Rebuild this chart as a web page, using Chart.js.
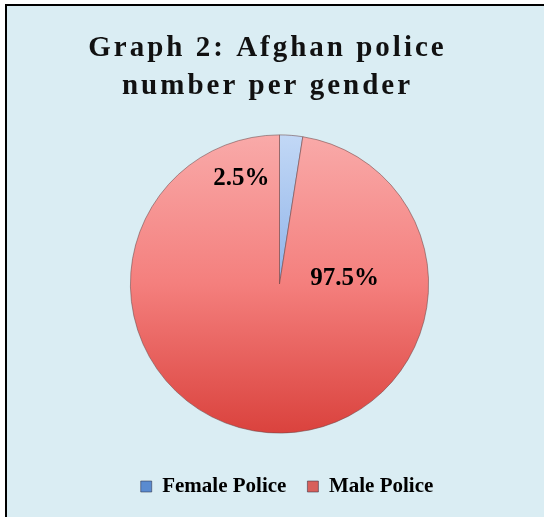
<!DOCTYPE html>
<html>
<head>
<meta charset="utf-8">
<script src="https://cdn.jsdelivr.net/npm/chart.js@4/dist/chart.umd.min.js"></script>
<style>
  html, body { margin: 0; padding: 0; background: #ffffff; }
  body { width: 544px; height: 517px; position: relative; overflow: hidden; }
  .frame {
    position: absolute; left: 5px; top: 4px; width: 560px; height: 540px;
    background: #daedf3; border-left: 2px solid #000; border-top: 2px solid #000;
  }
  #chart { position: absolute; left: 0; top: 0; }
</style>
</head>
<body>
<div class="frame"></div>
<canvas id="chart" width="544" height="517"></canvas>
<script>
// Afghan police headcount split by gender (percent of total)
const categories = ['Female Police', 'Male Police'];
const shares = [2.5, 97.5];
const shareLabels = ['2.5%', '97.5%'];

const titleLines = ['Graph 2: Afghan police', 'number per gender'];

// Vertical shading for each slice, light at the top and deeper at the bottom
const sliceStops = [
  ['#c2d8f6', '#8fb3e8', '#4c7fc6'],
  ['#f9aaa9', '#f47f7d', '#da423d']
];
const legendSwatch = ['#5a8bd0', '#d8605b'];

function sliceFill(context) {
  const chart = context.chart;
  const i = context.dataIndex;
  const area = chart.chartArea;
  if (!area) return sliceStops[i][1];
  const meta = chart.getDatasetMeta(0);
  const arc = meta.data[i];
  const cy = arc && arc.y ? arc.y : (area.top + area.bottom) / 2;
  const r = arc && arc.outerRadius ? arc.outerRadius : (area.bottom - area.top) / 2;
  const g = chart.ctx.createLinearGradient(0, cy - r, 0, cy + r);
  g.addColorStop(0, sliceStops[i][0]);
  g.addColorStop(0.5, sliceStops[i][1]);
  g.addColorStop(1, sliceStops[i][2]);
  return g;
}

// Title drawn with spaced-out lettering; title and legend nudged sideways
const blockTweaks = {
  id: 'blockTweaks',
  afterInit(chart, args, opts) {
    const wrap = (block, dx, spacing) => {
      if (!block || block._wrapped) return;
      const orig = block.draw.bind(block);
      block.draw = function () {
        const ctx = chart.ctx;
        ctx.save();
        ctx.translate(dx, 0);
        if (spacing) ctx.letterSpacing = spacing;
        orig();
        ctx.restore();
      };
      block._wrapped = true;
    };
    wrap(chart.titleBlock, opts.titleShift, '3px');
    wrap(chart.legend, opts.legendShift, null);
  }
};

// Percent labels placed relative to each slice's centre and radius
const sliceLabels = {
  id: 'sliceLabels',
  afterDatasetsDraw(chart, args, opts) {
    const ctx = chart.ctx;
    const meta = chart.getDatasetMeta(0);
    ctx.save();
    ctx.font = opts.font;
    ctx.fillStyle = opts.color;
    ctx.textAlign = 'center';
    ctx.textBaseline = 'middle';
    meta.data.forEach((arc, i) => {
      const p = arc.getProps(['x', 'y', 'outerRadius'], true);
      const off = opts.offsets[i];
      ctx.fillText(shareLabels[i], p.x + off[0] * p.outerRadius, p.y + off[1] * p.outerRadius);
    });
    ctx.restore();
  }
};

new Chart(document.getElementById('chart'), {
  type: 'pie',
  data: {
    labels: categories,
    datasets: [{
      data: shares,
      backgroundColor: sliceFill,
      borderColor: 'rgba(110, 70, 70, 0.55)',
      borderWidth: 1,
      hoverOffset: 0
    }]
  },
  options: {
    responsive: false,
    animation: false,
    events: [],
    layout: { padding: { left: 15, right: 0, top: 0, bottom: 10 } },
    plugins: {
      title: {
        display: true,
        text: titleLines,
        color: '#111111',
        font: { family: '"Liberation Serif", "Times New Roman", serif', size: 29, weight: 'bold', lineHeight: 1.3 },
        padding: { top: 30, bottom: 29 }
      },
      legend: {
        display: true,
        position: 'bottom',
        title: {
          display: true,
          text: ' ',
          color: '#000000',
          font: { size: 2 },
          padding: { top: 0, bottom: 19 }
        },
        labels: {
          color: '#000000',
          font: { family: '"Liberation Serif", "Times New Roman", serif', size: 21, weight: 'bold' },
          boxWidth: 11,
          boxHeight: 11,
          padding: 21,
          generateLabels(chart) {
            return categories.map((c, i) => ({
              text: c,
              fillStyle: legendSwatch[i],
              strokeStyle: 'rgba(40,40,60,0.5)',
              fontColor: '#000000',
              lineWidth: 1,
              hidden: false,
              index: i,
              datasetIndex: 0
            }));
          }
        }
      },
      tooltip: { enabled: false },
      blockTweaks: { titleShift: -12, legendShift: 7.5 },
      sliceLabels: {
        font: 'bold 25px "Liberation Serif", "Times New Roman", serif',
        color: '#000000',
        offsets: [[-0.255, -0.705], [0.436, -0.034]]
      }
    }
  },
  plugins: [blockTweaks, sliceLabels]
});
</script>
</body>
</html>
